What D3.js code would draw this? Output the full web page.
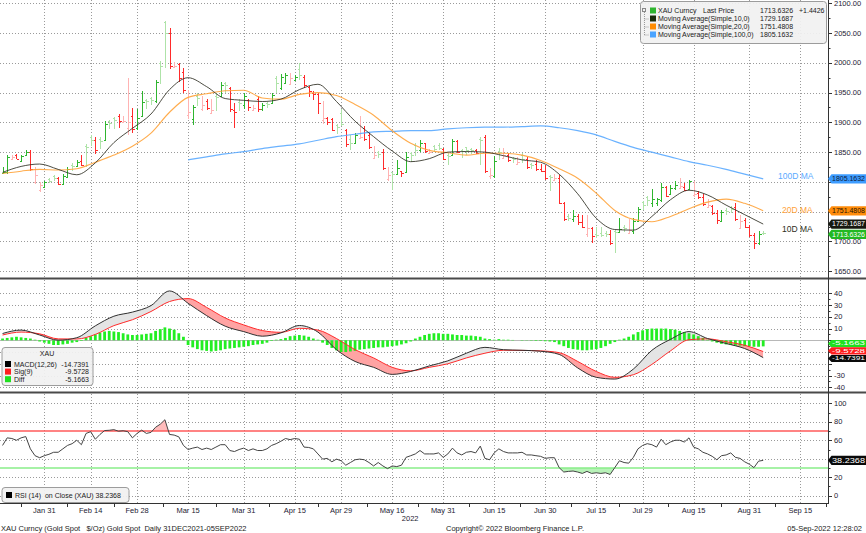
<!DOCTYPE html>
<html>
<head>
<meta charset="utf-8">
<script src="https://cdn.jsdelivr.net/npm/d3@7"></script>
<style>
  body { margin: 0; background: #fff; }
  svg { display: block; font-family: "Liberation Sans", Arial, sans-serif; }
  .pre { white-space: pre; }
</style>
</head>
<body>
<svg id="chart" width="866" height="533"></svg>
<script>
// XAU Curncy - daily bars with MAs, MACD and RSI panels

// ---- Data ----
// trading days, Jan 18 2022 .. Sep 05 2022
const firstDay = new Date(2022, 0, 18);
const lastDay = new Date(2022, 8, 5);

const open = [1815,1816,1839,1846,1835,1845,1850,1800,1786,1791,1805,1810,1806,1797,1809,1829,1826,1835,1860,1876,1870,1872,1870,1902,1907,1910,1900,1890,1910,1890,1910,1938,1941,1936,2000,2068,2050,1993,1998,1985,1912,1905,1945,1922,1936,1916,1945,1944,1966,1958,1921,1935,1930,1938,1920,1940,1922,1933,1933,1975,1958,1966,1964,1972,1990,1976,1960,1950,1948,1904,1907,1906,1896,1915,1888,1872,1866,1874,1890,1878,1840,1851,1850,1805,1816,1814,1818,1816,1848,1862,1853,1865,1848,1860,1862,1856,1846,1846,1868,1854,1858,1856,1853,1872,1875,1810,1810,1852,1840,1846,1840,1830,1845,1838,1830,1830,1822,1818,1810,1804,1806,1765,1743,1738,1743,1733,1712,1722,1712,1714,1714,1712,1718,1716,1725,1715,1718,1735,1766,1775,1765,1764,1770,1791,1780,1789,1790,1792,1788,1778,1782,1775,1758,1760,1747,1735,1753,1757,1757,1722,1736,1724,1711,1697,1715];
const high = [1825,1846,1846,1847,1846,1853,1853,1825,1800,1802,1806,1811,1809,1814,1825,1831,1836,1846,1864,1879,1875,1875,1903,1904,1909,1914,1911,1975,1924,1923,1953,1939,1942,1972,2003,2070,2058,2001,2000,1992,1954,1930,1950,1944,1939,1939,1950,1967,1967,1960,1933,1939,1950,1939,1930,1944,1933,1934,1950,1978,1981,1983,1983,1979,1999,1980,1961,1953,1950,1936,1909,1908,1898,1922,1889,1878,1882,1911,1894,1883,1861,1852,1856,1825,1817,1837,1819,1851,1851,1865,1870,1866,1855,1862,1866,1857,1848,1872,1871,1855,1859,1857,1855,1876,1879,1823,1843,1857,1857,1848,1841,1841,1848,1841,1831,1837,1830,1829,1812,1813,1812,1766,1746,1753,1746,1745,1745,1725,1725,1725,1717,1720,1720,1739,1727,1737,1739,1758,1768,1777,1788,1773,1798,1793,1795,1801,1807,1798,1804,1801,1785,1780,1772,1762,1752,1753,1756,1760,1765,1745,1739,1728,1714,1718,1717];
const low = [1813,1814,1838,1838,1833,1843,1818,1797,1783,1789,1798,1801,1794,1794,1808,1819,1825,1827,1825,1861,1847,1855,1869,1889,1889,1890,1899,1879,1882,1888,1910,1922,1930,1933,1964,1992,1990,1992,1968,1950,1906,1895,1928,1919,1921,1914,1919,1943,1950,1918,1890,1919,1922,1919,1919,1918,1919,1924,1932,1950,1955,1964,1962,1971,1972,1958,1942,1938,1914,1897,1896,1885,1880,1894,1858,1853,1864,1872,1868,1856,1838,1840,1820,1801,1787,1812,1808,1815,1834,1843,1851,1848,1847,1851,1853,1836,1829,1845,1848,1840,1846,1847,1847,1828,1815,1805,1806,1836,1839,1833,1831,1829,1831,1822,1822,1819,1816,1804,1784,1803,1763,1735,1735,1733,1727,1722,1707,1697,1705,1708,1707,1694,1681,1715,1716,1713,1713,1734,1752,1760,1758,1760,1767,1774,1779,1786,1788,1784,1786,1775,1772,1760,1757,1745,1730,1733,1745,1748,1735,1721,1722,1708,1688,1694,1710];
const close = [1817,1842,1841,1839,1844,1851,1821,1812,1795,1800,1802,1806,1797,1810,1822,1826,1834,1829,1858,1870,1854,1869,1898,1899,1904,1903,1902,1901,1889,1908,1935,1936,1937,1968,1995,2050,1995,1994,1975,1955,1918,1926,1941,1930,1924,1921,1942,1962,1963,1922,1918,1932,1945,1925,1924,1922,1930,1931,1946,1966,1977,1980,1975,1977,1979,1962,1952,1948,1932,1908,1900,1888,1893,1897,1864,1866,1878,1876,1872,1858,1845,1847,1823,1812,1814,1823,1815,1842,1845,1853,1866,1852,1850,1855,1857,1838,1843,1868,1851,1852,1853,1854,1849,1870,1819,1812,1835,1850,1846,1836,1838,1834,1838,1825,1828,1822,1818,1807,1808,1806,1765,1738,1740,1742,1733,1725,1722,1709,1710,1711,1712,1697,1716,1721,1722,1719,1735,1754,1762,1770,1771,1772,1792,1777,1790,1795,1793,1787,1801,1780,1775,1763,1762,1747,1736,1749,1751,1755,1738,1734,1724,1711,1697,1712.19,1713.63];

// moving averages and MACD lines, read every 4th trading day
const sampleStep = 4;
const ma10 = [1816,1826,1830,1821,1812,1832,1866,1890,1914,1955,1975,1960,1940,1937,1935,1939,1955,1964,1935,1902,1876,1852,1834,1839,1850,1851,1850,1844,1837,1833,1813,1780,1739,1720,1719,1742,1770,1786,1778,1761,1745,1729.17];
const ma20 = [1814,1818,1821,1820,1822,1833,1845,1860,1882,1917,1942,1948,1953,1954,1941,1939,1947,1950,1945,1930,1912,1886,1865,1853,1849,1845,1848,1848,1845,1836,1822,1806,1781,1752,1737,1733,1742,1755,1766,1771,1764,1751.48];
const ma100 = [null,null,null,null,null,null,null,null,null,null,1837,1842,1847,1851,1856,1860,1864,1870,1876,1880,1884,1885,1886,1886,1889,1891,1892,1892,1893,1894,1891,1886,1879,1868,1858,1850,1842,1834,1828,1821,1813,1805.16];
const macd = [5.8,8.7,4.5,0.1,2.2,12.3,20.5,24,29.5,42,31.5,21,12,7.4,3.5,6.3,12.6,7,-8,-18,-23,-29,-26.5,-21.8,-17.5,-11,-6,-8,-8.5,-9.3,-12,-23.5,-31.5,-33,-24.5,-8.5,0.8,7.4,1.5,-2.7,-7,-14.74];
const signal = [4.5,7,5.5,1.2,1.1,5,12.5,17.5,24.5,33,35.5,28,19,13.1,8.3,6.8,10.2,8.7,1.5,-8,-15,-23,-26,-23,-20,-15,-11,-8.5,-8.6,-9,-10.5,-18,-26.5,-31.5,-29.3,-20.5,-9,0.5,1.2,-1.2,-4.2,-9.57];

// daily MACD histogram and RSI
const diff = [1.5,2,2.5,3,2.5,2,1.5,0.5,-1,-2,-3,-4,-4,-3.5,-3,-2,-1.5,-0.5,2,3.5,5,6.5,7.5,8,7.5,7,6,5,4.5,4.5,5,5.5,6,8,9.5,11,10,9,6,3,-4,-6,-7.5,-8.5,-9,-9.5,-9,-8.5,-7.5,-7,-6.5,-6,-5.5,-5,-4,-3.5,-3,-2,-0.5,0.5,1,2,3.5,4,4.5,4,3,1.5,0.5,-2,-4,-6.5,-8.5,-10,-10,-9.5,-9,-8,-7.5,-7,-6.5,-6,-6,-5.5,-5,-4.5,-3.5,-2.5,-1,1.5,3,4.5,5.5,6,6,5.5,5.5,5,4.5,4.5,4,4,3.5,3,1.5,1,0.5,1,0.5,0.5,0.3,0,-0.3,0.2,-0.3,-0.5,-0.5,-0.8,-1,-1.5,-3.5,-5,-6.5,-7.5,-8,-8.5,-8.5,-8,-7.5,-6.5,-5,-3,-1.5,0.5,1.5,3,5,7,8.5,9.5,10,10,10,10,9.5,9,8,7,6,5,3.5,2,0.5,-1,-2,-3,-3.5,-4,-4.5,-4.5,-5,-5,-5.5,-5.5,-5.1663];
const rsi = [54.4,62.6,61.9,60,62.6,64,50.7,43.3,41.1,43.3,44.8,47,47,50.7,54.4,56.3,60,55.2,67.4,69.3,61.1,66.3,70.5,70.8,71.5,69.8,70.3,69.3,62.6,67.4,71,67.4,68.5,74.1,77.4,82.2,66.3,65.6,63.7,54.4,50,51.5,52.6,50,51.5,50,52.6,55.2,55.2,48.9,47.8,50,51.5,48.9,50.7,48.9,48.9,50.7,54.4,56.3,58.9,61.9,60.7,61.9,61.1,52.6,52.2,50.7,45.2,39.6,40.4,36.7,39.6,37.8,33,35.9,38.9,39.6,38.9,35.9,32.2,35.9,32.2,29.3,32.2,31.5,33,41.5,43.3,45.2,48.9,45.2,45.2,45.2,46.3,41.5,45.2,51.5,46.3,44.1,47,47.8,46.3,53.7,40.4,38.9,46.3,50.7,47.8,46.3,46.3,46.3,47,44.1,44.1,43.3,42.6,40.4,41.1,41.1,30.4,25.6,26.3,26.7,25.6,24.1,26.3,24.1,24.8,24.1,24.8,23,30.4,37.8,35.9,35.2,41.5,50.7,54.4,56.3,55.2,52.6,61.1,55.2,58.1,60,60,58.1,62.6,52.6,50.7,47,45.2,42.6,38.9,43.3,44.1,46.3,41.5,40.4,36.7,34.1,30.4,37.4,38.2368];

const tickLabels = ['Jan 31','Feb 14','Feb 28','Mar 15','Mar 31','Apr 15','Apr 29','May 16','May 31','Jun 15','Jun 30','Jul 15','Jul 29','Aug 15','Aug 31','Sep 15'];
const lastValues = { price: 1713.6326, change: '+1.4426', ma10: 1729.1687, ma20: 1751.4808, ma100: 1805.1632,
                     macd: -14.7391, sig: -9.5728, diff: -5.1663, rsi: 38.2368 };

// ---- Config ----
const config = {
    colors: {
        upDark: '#2fb52f', upLight: '#aee3a8', downDark: '#ff2b2b', downLight: '#ffb3b3',
        ma10: '#2e2e22', ma20: '#ffa33a', ma100: '#5aaaff',
        macd: '#303030', sig: '#ff2a2a', hist: '#22ee22',
        grid: '#9a9a9a', axis: '#333', text: '#1d2233'
    },
    plotRight: 828,
    price: { top: 0, bottom: 277 },
    macdPanel: { top: 280, bottom: 391 },
    rsiPanel: { top: 394, bottom: 503 }
};

// ---- Calendar helpers ----
const isWeekday = d => d.getDay() !== 0 && d.getDay() !== 6;
const calendar = d3.timeDay.range(firstDay, new Date(2022, 8, 30)).filter(isWeekday);
const dayKey = d3.timeFormat('%Y-%m-%d');
const calIndex = new Map(calendar.map((d, i) => [dayKey(d), i]));
const dates = d3.timeDay.range(firstDay, d3.timeDay.offset(lastDay, 1)).filter(isWeekday);
const parseTick = d3.timeParse('%b %d %Y');
const tickIdx = tickLabels.map(t => calIndex.get(dayKey(parseTick(t + ' 2022'))));

const bars = dates.map((d, i) => ({ i, o: open[i], h: high[i], l: low[i], c: close[i], diff: diff[i], rsi: rsi[i] }));
const samples = d3.range(0, dates.length, sampleStep).map((b, k) => ({
    i: b, ma10: ma10[k], ma20: ma20[k], ma100: ma100[k], m: macd[k], s: signal[k]
}));

// ---- Scales ----
const x = d3.scaleLinear()
    .domain([calIndex.get('2022-01-31'), calIndex.get('2022-08-31')])
    .range([44.3, 749.3]);
const yPrice = d3.scaleLinear().domain([1650, 2100]).range([271.2, 3.3]);
const yMacd = d3.scaleLinear().domain([-40, 40]).range([387.3, 293.3]);
const yRsi = d3.scaleLinear().domain([0, 100]).range([495.7, 403.3]);

const svg = d3.select('#chart');
const defs = svg.append('defs');
const C = config.colors;
const R = config.plotRight;

function clipRect(id, y0, y1) {
    defs.append('clipPath').attr('id', id).append('rect')
        .attr('x', 0).attr('y', y0).attr('width', R).attr('height', y1 - y0);
}
clipRect('clip-price', config.price.top, config.price.bottom);
clipRect('clip-macd', config.macdPanel.top, config.macdPanel.bottom);
clipRect('clip-rsi', config.rsiPanel.top, config.rsiPanel.bottom);

// gridlines + right axis for one panel; labels hidden under a value tag are skipped
function panelGrid(panel, y, major, minor, fmt, skipZero, tagValues, gap) {
    const g = svg.append('g');
    g.selectAll('.vg').data(tickIdx).enter().append('line')
        .attr('x1', d => Math.round(x(d)) + 0.5).attr('x2', d => Math.round(x(d)) + 0.5)
        .attr('y1', panel.top).attr('y2', panel.bottom)
        .attr('stroke', C.grid).attr('stroke-dasharray', '1,2');
    g.selectAll('.hg').data(major.filter(v => !(skipZero && v === 0))).enter().append('line')
        .attr('x1', 0).attr('x2', R)
        .attr('y1', d => Math.round(y(d)) + 0.5).attr('y2', d => Math.round(y(d)) + 0.5)
        .attr('stroke', C.grid).attr('stroke-dasharray', '1,2');
    const ax = svg.append('g');
    ax.selectAll('.mj').data(major).enter().append('line')
        .attr('x1', R).attr('x2', R + 4)
        .attr('y1', d => Math.round(y(d)) + 0.5).attr('y2', d => Math.round(y(d)) + 0.5)
        .attr('stroke', C.axis);
    ax.selectAll('.mn').data(minor).enter().append('line')
        .attr('x1', R).attr('x2', R + 2.5)
        .attr('y1', d => Math.round(y(d)) + 0.5).attr('y2', d => Math.round(y(d)) + 0.5)
        .attr('stroke', C.axis);
    const visible = major.filter(v => !tagValues.some(t => Math.abs(y(v) - y(t)) < gap));
    ax.selectAll('.lb').data(visible).enter().append('text')
        .attr('x', R + 6).attr('y', d => y(d) + 2.6)
        .attr('font-size', 7.5).attr('fill', C.text)
        .text(fmt);
}

panelGrid(config.price, yPrice, d3.range(1650, 2101, 50), d3.range(1675, 2100, 50), d => d.toFixed(2), false,
    [lastValues.ma100, lastValues.ma20], 5.2);
panelGrid(config.macdPanel, yMacd, d3.range(-40, 41, 10), d3.range(-35, 40, 10), d => d, true,
    [lastValues.diff, lastValues.sig, lastValues.macd], 6.5);
panelGrid(config.rsiPanel, yRsi, d3.range(0, 101, 20), d3.range(10, 100, 20), d => d, false,
    [lastValues.rsi], 5.2);

// ---- Price panel: OHLC bars ----
function barColor(d, i) {
    const prev = i > 0 ? close[i - 1] : d.o;
    const up = d.c >= prev;
    const agree = (d.c >= d.o) === up;
    return up ? (agree ? C.upDark : C.upLight) : (agree ? C.downDark : C.downLight);
}

const priceG = svg.append('g').attr('clip-path', 'url(#clip-price)');
const barG = priceG.selectAll('.bar').data(bars).enter().append('g')
    .attr('stroke', (d, i) => barColor(d, i))
    .attr('stroke-width', 1)
    .attr('shape-rendering', 'crispEdges');
barG.append('line')
    .attr('x1', d => Math.round(x(d.i)) + 0.5).attr('x2', d => Math.round(x(d.i)) + 0.5)
    .attr('y1', d => yPrice(d.h)).attr('y2', d => yPrice(d.l));
barG.append('line')
    .attr('x1', d => Math.round(x(d.i)) - 1.5).attr('x2', d => Math.round(x(d.i)) + 0.5)
    .attr('y1', d => Math.round(yPrice(d.o)) + 0.5).attr('y2', d => Math.round(yPrice(d.o)) + 0.5);
barG.append('line')
    .attr('x1', d => Math.round(x(d.i)) + 0.5).attr('x2', d => Math.round(x(d.i)) + 2.5)
    .attr('y1', d => Math.round(yPrice(d.c)) + 0.5).attr('y2', d => Math.round(yPrice(d.c)) + 0.5);

// moving averages
function maLine(key) {
    return d3.line()
        .defined(d => d[key] != null)
        .x(d => x(d.i)).y(d => yPrice(d[key]))
        .curve(d3.curveMonotoneX);
}
[['ma100', C.ma100, 1.2], ['ma20', C.ma20, 1.1], ['ma10', C.ma10, 1]].forEach(([key, col, w]) => {
    priceG.append('path').datum(samples)
        .attr('d', maLine(key))
        .attr('fill', 'none').attr('stroke', col).attr('stroke-width', w)
        .attr('stroke-opacity', key === 'ma10' ? 0.85 : 0.9);
});

// MA tags next to the line ends
function maTag(xp, yp, col, txt) {
    svg.append('text').attr('class', 'pre').attr('x', xp).attr('y', yp)
        .attr('font-size', 8.5).attr('fill', col).text(txt);
}
maTag(778, yPrice(lastValues.ma100) + 0.5, C.ma100, '100D MA');
maTag(782, yPrice(lastValues.ma20) + 2, C.ma20, '20D MA');
maTag(782, yPrice(lastValues.ma10) + 8, C.ma10, '10D MA');

// ---- MACD panel ----
const macdG = svg.append('g').attr('clip-path', 'url(#clip-macd)');
const mp = config.macdPanel;

defs.append('clipPath').attr('id', 'below-macd').append('path').datum(samples)
    .attr('d', d3.area().x(d => x(d.i)).y0(mp.bottom).y1(d => yMacd(d.m)).curve(d3.curveMonotoneX));
defs.append('clipPath').attr('id', 'above-macd').append('path').datum(samples)
    .attr('d', d3.area().x(d => x(d.i)).y0(mp.top).y1(d => yMacd(d.m)).curve(d3.curveMonotoneX));

macdG.append('path').datum(samples)
    .attr('clip-path', 'url(#below-macd)')
    .attr('d', d3.area().x(d => x(d.i)).y0(mp.top).y1(d => yMacd(d.s)).curve(d3.curveMonotoneX))
    .attr('fill', '#e4e4e4');
macdG.append('path').datum(samples)
    .attr('clip-path', 'url(#above-macd)')
    .attr('d', d3.area().x(d => x(d.i)).y0(mp.bottom).y1(d => yMacd(d.s)).curve(d3.curveMonotoneX))
    .attr('fill', '#ffa3a3');

macdG.append('line')
    .attr('x1', 0).attr('x2', R).attr('y1', Math.round(yMacd(0)) + 0.5).attr('y2', Math.round(yMacd(0)) + 0.5)
    .attr('stroke', '#b8b8b8');

macdG.selectAll('.hist').data(bars).enter().append('rect')
    .attr('x', d => x(d.i) - 1.4).attr('width', 2.8)
    .attr('y', d => Math.min(yMacd(d.diff), yMacd(0)))
    .attr('height', d => Math.abs(yMacd(d.diff) - yMacd(0)))
    .attr('fill', C.hist);

macdG.append('path').datum(samples)
    .attr('d', d3.line().x(d => x(d.i)).y(d => yMacd(d.s)).curve(d3.curveMonotoneX))
    .attr('fill', 'none').attr('stroke', C.sig).attr('stroke-width', 1);
macdG.append('path').datum(samples)
    .attr('d', d3.line().x(d => x(d.i)).y(d => yMacd(d.m)).curve(d3.curveMonotoneX))
    .attr('fill', 'none').attr('stroke', C.macd).attr('stroke-width', 1);

// ---- RSI panel ----
const rsiG = svg.append('g').attr('clip-path', 'url(#clip-rsi)');
const rp = config.rsiPanel;
clipRect('rsi-over', rp.top, yRsi(70));
clipRect('rsi-under', yRsi(30), rp.bottom);

rsiG.append('path').datum(bars)
    .attr('clip-path', 'url(#rsi-over)')
    .attr('d', d3.area().x(d => x(d.i)).y0(yRsi(70)).y1(d => yRsi(d.rsi)))
    .attr('fill', '#ffbcbc');
rsiG.append('path').datum(bars)
    .attr('clip-path', 'url(#rsi-under)')
    .attr('d', d3.area().x(d => x(d.i)).y0(yRsi(30)).y1(d => yRsi(d.rsi)))
    .attr('fill', '#b8f2b8');
rsiG.append('line').attr('x1', 0).attr('x2', R).attr('y1', yRsi(70)).attr('y2', yRsi(70))
    .attr('stroke', '#ff5a5a').attr('stroke-width', 1.5);
rsiG.append('line').attr('x1', 0).attr('x2', R).attr('y1', yRsi(30)).attr('y2', yRsi(30))
    .attr('stroke', '#88ee88').attr('stroke-width', 1.5);
rsiG.append('path').datum(bars)
    .attr('d', d3.line().x(d => x(d.i)).y(d => yRsi(d.rsi)))
    .attr('fill', 'none').attr('stroke', '#444').attr('stroke-width', 1);

// ---- Frame: separators, axes ----
svg.append('line').attr('x1', 0).attr('x2', 866).attr('y1', 278.5).attr('y2', 278.5)
    .attr('stroke', '#4a4a4a').attr('stroke-width', 2);
svg.append('line').attr('x1', 0).attr('x2', 866).attr('y1', 392.5).attr('y2', 392.5)
    .attr('stroke', '#4a4a4a').attr('stroke-width', 2);
svg.append('line').attr('x1', R + 0.5).attr('x2', R + 0.5).attr('y1', 0).attr('y2', 504)
    .attr('stroke', C.axis);
svg.append('line').attr('x1', 0).attr('x2', R).attr('y1', 503.5).attr('y2', 503.5)
    .attr('stroke', C.axis);

// minor x ticks halfway between labelled ticks
const midTicks = d3.pairs([tickIdx[0] - (tickIdx[1] - tickIdx[0])].concat(tickIdx)).map(([a, b]) => (a + b) / 2)
    .concat([tickIdx[tickIdx.length - 1] + 5.5]);
svg.selectAll('.xt').data(midTicks).enter().append('line')
    .attr('x1', d => Math.round(x(d)) + 0.5).attr('x2', d => Math.round(x(d)) + 0.5)
    .attr('y1', 503.5).attr('y2', 507)
    .attr('stroke', C.axis);

svg.selectAll('.xl').data(tickLabels).enter().append('text')
    .attr('x', (d, k) => x(tickIdx[k])).attr('y', 512.5)
    .attr('text-anchor', 'middle').attr('font-size', 7.5).attr('fill', C.text)
    .text(d => d);
svg.append('text').attr('x', x(calIndex.get('2022-05-16')) + 18).attr('y', 521)
    .attr('text-anchor', 'middle').attr('font-size', 7.5).attr('fill', C.text).text('2022');

// ---- Right-edge value tags ----
function tag(yv, bg, fg, label, h) {
    const g = svg.append('g');
    h = h || 4.6;
    g.append('path')
        .attr('d', `M${R},${yv} L${R + 3.5},${yv - h} L866,${yv - h} L866,${yv + h} L${R + 3.5},${yv + h} Z`)
        .attr('fill', bg);
    g.append('text').attr('x', R + 4).attr('y', yv + h * 0.5)
        .attr('font-size', h < 4 ? 6.2 : 6.8).attr('fill', fg)
        .attr('textLength', 33).attr('lengthAdjust', 'spacingAndGlyphs')
        .text(label);
}
tag(yPrice(lastValues.ma100), '#3d9cff', '#0d1b3a', lastValues.ma100.toFixed(4));
tag(yPrice(lastValues.ma20), '#ff8c0a', '#2a1500', lastValues.ma20.toFixed(4));
tag(yPrice(lastValues.ma10), '#16180f', '#ffffff', lastValues.ma10.toFixed(4));
tag(yPrice(lastValues.price) + 1, '#22b822', '#ffffff', lastValues.price.toFixed(4));
tag(yMacd(lastValues.diff) - 2.8, '#1fe01f', '#ffffff', lastValues.diff.toFixed(4), 3.6);
tag(yMacd(lastValues.sig) - 0.7, '#ff1f1f', '#ffffff', lastValues.sig.toFixed(4), 3.6);
tag(yMacd(lastValues.macd) + 0.9, '#0a0a0a', '#ffffff', lastValues.macd.toFixed(4), 3.6);
tag(yRsi(lastValues.rsi), '#0a0a0a', '#ffffff', lastValues.rsi.toFixed(4));

// ---- Legends ----
function legendBox(x0, y0, w, h) {
    svg.append('rect').attr('x', x0 + 0.5).attr('y', y0 + 0.5).attr('width', w).attr('height', h)
        .attr('rx', 3).attr('fill', '#f1f1f1').attr('fill-opacity', 0.93)
        .attr('stroke', '#9c9c9c');
}
function swatch(x0, yc, col) {
    svg.append('rect').attr('x', x0).attr('y', yc - 3).attr('width', 6).attr('height', 6).attr('fill', col);
}
function label(x0, yb, txt, anchor) {
    svg.append('text').attr('class', 'pre').attr('x', x0).attr('y', yb)
        .attr('font-size', 7).attr('fill', '#1a1a1a')
        .attr('text-anchor', anchor || 'start').text(txt);
}

// price legend (top right)
legendBox(640, 1, 186, 42);
const rows = [
    ['XAU Curncy', C.upDark, lastValues.price.toFixed(4)],
    ['Moving Average(Simple,10,0)', '#1a2a0a', lastValues.ma10.toFixed(4)],
    ['Moving Average(Simple,20,0)', '#ff8c00', lastValues.ma20.toFixed(4)],
    ['Moving Average(Simple,100,0)', '#4aa3ff', lastValues.ma100.toFixed(4)]
];
svg.append('rect').attr('x', 642.5).attr('y', 8.5).attr('width', 3).attr('height', 3)
    .attr('fill', 'none').attr('stroke', '#888');
svg.append('line').attr('x1', 644.5).attr('x2', 644.5).attr('y1', 12).attr('y2', 35)
    .attr('stroke', '#999').attr('stroke-dasharray', '1,1');
rows.forEach((r, k) => {
    const yc = 10.5 + k * 8;
    if (k > 0) svg.append('line').attr('x1', 644.5).attr('x2', 649).attr('y1', yc + 0.5).attr('y2', yc + 0.5)
        .attr('stroke', '#999').attr('stroke-dasharray', '1,1');
    swatch(650, yc, r[1]);
    label(658, yc + 2.6, r[0]);
    label(760, yc + 2.6, r[2]);
});
label(703, 13.1, 'Last Price');
label(799, 13.1, lastValues.change);

// MACD legend
legendBox(1.5, 347, 91, 38);
label(47, 356, 'XAU', 'middle');
[['MACD(12,26)', '#000000', lastValues.macd], ['Sig(9)', '#ff1f1f', lastValues.sig], ['Diff', '#1fe01f', lastValues.diff]]
    .forEach((r, k) => {
        const yc = 364 + k * 7.6;
        swatch(5, yc, r[1]);
        label(14, yc + 2.6, r[0]);
        label(89, yc + 2.6, r[2].toFixed(4), 'end');
    });

// RSI legend
legendBox(1.5, 487, 127, 15);
swatch(6, 495, '#000000');
label(15, 497.5, 'RSI (14)  on Close (XAU) ' + lastValues.rsi.toFixed(4));

// ---- Footer ----
svg.append('text').attr('class', 'pre').attr('x', 1).attr('y', 530.5)
    .attr('font-size', 7.5).attr('fill', '#222')
    .text('XAU Curncy (Gold Spot   $/Oz) Gold Spot  Daily 31DEC2021-05SEP2022');
svg.append('text').attr('x', 446).attr('y', 530.5)
    .attr('font-size', 7.5).attr('fill', '#222')
    .text('Copyright\u00a9 2022 Bloomberg Finance L.P.');
svg.append('text').attr('x', 862).attr('y', 530.5).attr('text-anchor', 'end')
    .attr('font-size', 7.5).attr('fill', '#222')
    .text('05-Sep-2022 12:28:02');
</script>
</body>
</html>
